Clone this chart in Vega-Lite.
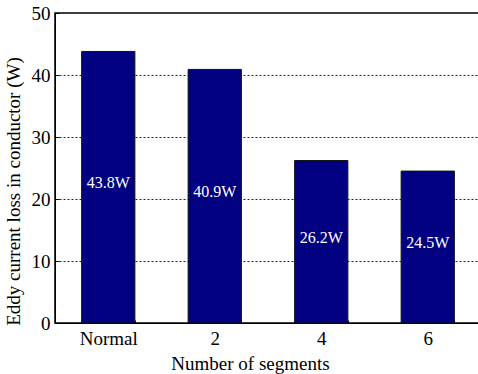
{
  "$schema": "https://vega.github.io/schema/vega-lite/v6.json",
  "width": 426,
  "height": 310,
  "autosize": "none",
  "padding": {"left": 55, "top": 13, "right": 0, "bottom": 51},
  "background": "white",
  "config": {
    "font": "Times New Roman",
    "view": {"stroke": "black", "strokeWidth": 1.5},
    "axis": {
      "labelFont": "Times New Roman",
      "titleFont": "Times New Roman",
      "labelFontSize": 19,
      "titleFontSize": 19,
      "labelColor": "black",
      "titleColor": "black",
      "titleFontWeight": "normal",
      "domainColor": "black",
      "tickColor": "black",
      "tickWidth": 1
    }
  },
  "data": {
    "values": [
      {"segments": "Normal", "loss": 43.8, "label": "43.8W"},
      {"segments": "2", "loss": 40.9, "label": "40.9W"},
      {"segments": "4", "loss": 26.2, "label": "26.2W"},
      {"segments": "6", "loss": 24.5, "label": "24.5W"}
    ]
  },
  "encoding": {
    "x": {
      "field": "segments",
      "type": "nominal",
      "sort": null,
      "scale": {"paddingInner": 0.5, "paddingOuter": 0.25},
      "axis": {
        "title": "Number of segments",
        "labelAngle": 0,
        "tickBand": "extent",
        "tickSize": -3,
        "labelPadding": 9,
        "titlePadding": 6,
        "titleX": 195,
        "grid": false
      }
    }
  },
  "layer": [
    {
      "mark": {"type": "bar", "color": "#000080", "stroke": "#111", "strokeWidth": 1},
      "encoding": {
        "y": {
          "field": "loss",
          "type": "quantitative",
          "scale": {"domain": [0, 50], "nice": false},
          "axis": {
            "title": "Eddy current loss in conductor (W)",
            "values": [0, 5, 10, 15, 20, 25, 30, 35, 40, 45, 50],
            "labelExpr": "datum.value % 10 == 0 ? datum.label : ''",
            "tickSize": -4,
            "labelPadding": 9,
            "titlePadding": 8,
            "titleY": 178,
            "grid": true,
            "gridColor": "#222",
            "gridDash": [2, 2],
            "gridWidth": 1,
            "gridOpacity": {"condition": {"test": "datum.value % 10 == 0 && datum.value > 0 && datum.value < 50", "value": 1}, "value": 0}
          }
        }
      }
    },
    {
      "transform": [{"calculate": "datum.loss / 2", "as": "mid"}],
      "mark": {"type": "text", "color": "white", "font": "Times New Roman", "fontSize": 16, "baseline": "middle", "align": "center", "dy": -4},
      "encoding": {
        "y": {"field": "mid", "type": "quantitative"},
        "text": {"field": "label"}
      }
    }
  ]
}
